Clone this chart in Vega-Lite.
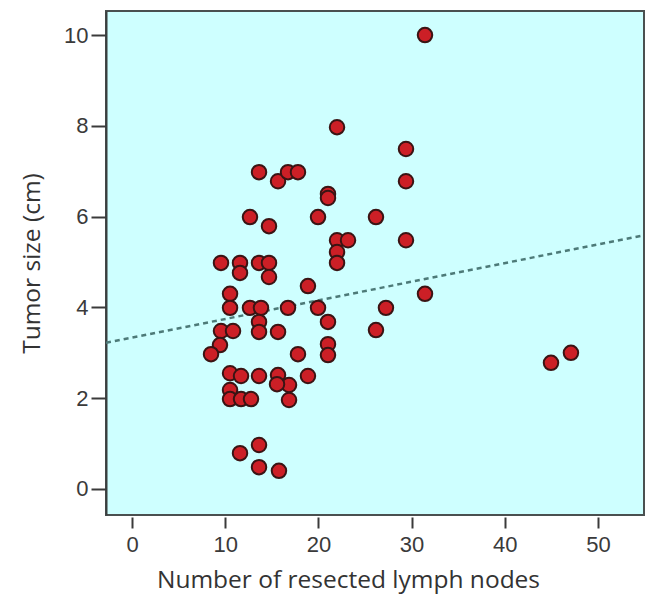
{
  "$schema": "https://vega.github.io/schema/vega-lite/v6.json",
  "autosize": {"type": "none"},
  "width": 538,
  "height": 504,
  "padding": {"left": 106, "top": 11, "right": 1, "bottom": 91},
  "background": "white",
  "config": {
    "view": {"fill": "#ceffff", "stroke": "#4a5050", "strokeWidth": 2},
    "axis": {"grid": false, "labelFont": "Liberation Sans", "titleFont": "Open Sans", "labelColor": "#3a3a3a", "titleColor": "#333333", "titleFontWeight": "normal", "tickColor": "#3a3a3a", "domainColor": "#3a3f3f"}
  },
  "datasets": {
    "pts": [
      {"nodes": 31.44, "size": 10.0}, {"nodes": 22.0, "size": 7.97}, {"nodes": 29.4, "size": 7.49}, {"nodes": 29.4, "size": 6.78},
      {"nodes": 13.63, "size": 6.98}, {"nodes": 15.67, "size": 6.78}, {"nodes": 16.74, "size": 6.98}, {"nodes": 17.81, "size": 6.98},
      {"nodes": 21.03, "size": 6.5}, {"nodes": 21.03, "size": 6.41}, {"nodes": 12.66, "size": 5.99}, {"nodes": 14.7, "size": 5.79},
      {"nodes": 19.96, "size": 5.99}, {"nodes": 26.18, "size": 5.99}, {"nodes": 22.0, "size": 5.48}, {"nodes": 23.18, "size": 5.48},
      {"nodes": 29.4, "size": 5.48}, {"nodes": 22.0, "size": 5.22}, {"nodes": 22.0, "size": 4.98}, {"nodes": 9.55, "size": 4.98},
      {"nodes": 11.59, "size": 4.98}, {"nodes": 11.59, "size": 4.76}, {"nodes": 13.63, "size": 4.98}, {"nodes": 14.7, "size": 4.98},
      {"nodes": 14.7, "size": 4.67}, {"nodes": 18.88, "size": 4.47}, {"nodes": 10.52, "size": 4.3}, {"nodes": 31.44, "size": 4.3},
      {"nodes": 10.52, "size": 3.99}, {"nodes": 12.66, "size": 3.99}, {"nodes": 13.84, "size": 3.99}, {"nodes": 16.74, "size": 3.99},
      {"nodes": 19.96, "size": 3.99}, {"nodes": 27.25, "size": 3.99}, {"nodes": 13.63, "size": 3.68}, {"nodes": 13.63, "size": 3.46},
      {"nodes": 15.67, "size": 3.46}, {"nodes": 21.03, "size": 3.68}, {"nodes": 9.55, "size": 3.48}, {"nodes": 10.84, "size": 3.48},
      {"nodes": 26.18, "size": 3.5}, {"nodes": 9.44, "size": 3.17}, {"nodes": 8.48, "size": 2.97}, {"nodes": 17.81, "size": 2.97},
      {"nodes": 21.03, "size": 3.19}, {"nodes": 21.03, "size": 2.95}, {"nodes": 10.52, "size": 2.55}, {"nodes": 11.7, "size": 2.49},
      {"nodes": 13.63, "size": 2.49}, {"nodes": 15.67, "size": 2.51}, {"nodes": 16.85, "size": 2.29}, {"nodes": 15.56, "size": 2.31},
      {"nodes": 18.88, "size": 2.49}, {"nodes": 10.52, "size": 2.18}, {"nodes": 10.52, "size": 1.98}, {"nodes": 11.7, "size": 1.98},
      {"nodes": 12.77, "size": 1.98}, {"nodes": 16.85, "size": 1.96}, {"nodes": 11.59, "size": 0.79}, {"nodes": 13.63, "size": 0.97},
      {"nodes": 13.63, "size": 0.48}, {"nodes": 15.77, "size": 0.4}, {"nodes": 44.96, "size": 2.78}, {"nodes": 47.1, "size": 3.0}
    ],
    "fit": [
      {"nodes": -2.79, "size": 3.22},
      {"nodes": 54.94, "size": 5.59}
    ]
  },
  "layer": [
    {
      "data": {"name": "fit"},
      "mark": {"type": "line", "color": "#4d7a78", "strokeWidth": 2.5, "strokeDash": [5, 4], "clip": true},
      "encoding": {
        "x": {"field": "nodes", "type": "quantitative"},
        "y": {"field": "size", "type": "quantitative"}
      }
    },
    {
      "data": {"name": "pts"},
      "mark": {"type": "circle", "size": 210, "fill": "#cc1f26", "fillOpacity": 1, "stroke": "#3a1414", "strokeWidth": 2, "clip": true},
      "encoding": {
        "x": {
          "field": "nodes", "type": "quantitative",
          "scale": {"domain": [-2.79, 54.94], "nice": false, "zero": false},
          "axis": {"title": "Number of resected lymph nodes", "values": [0, 10, 20, 30, 40, 50], "domain": false, "offset": 2, "tickSize": 11, "tickWidth": 2, "labelFontSize": 22, "labelPadding": 6, "titleFontSize": 24.5, "titlePadding": 13, "titleX": 242}
        },
        "y": {
          "field": "size", "type": "quantitative",
          "scale": {"domain": [-0.573, 10.53], "nice": false, "zero": false},
          "axis": {"title": "Tumor size (cm)", "values": [0, 2, 4, 6, 8, 10], "tickSize": 15, "tickWidth": 2, "labelFontSize": 22, "labelPadding": 3, "titleFontSize": 24.5, "titlePadding": 19, "domainWidth": 2}
        }
      }
    }
  ]
}
